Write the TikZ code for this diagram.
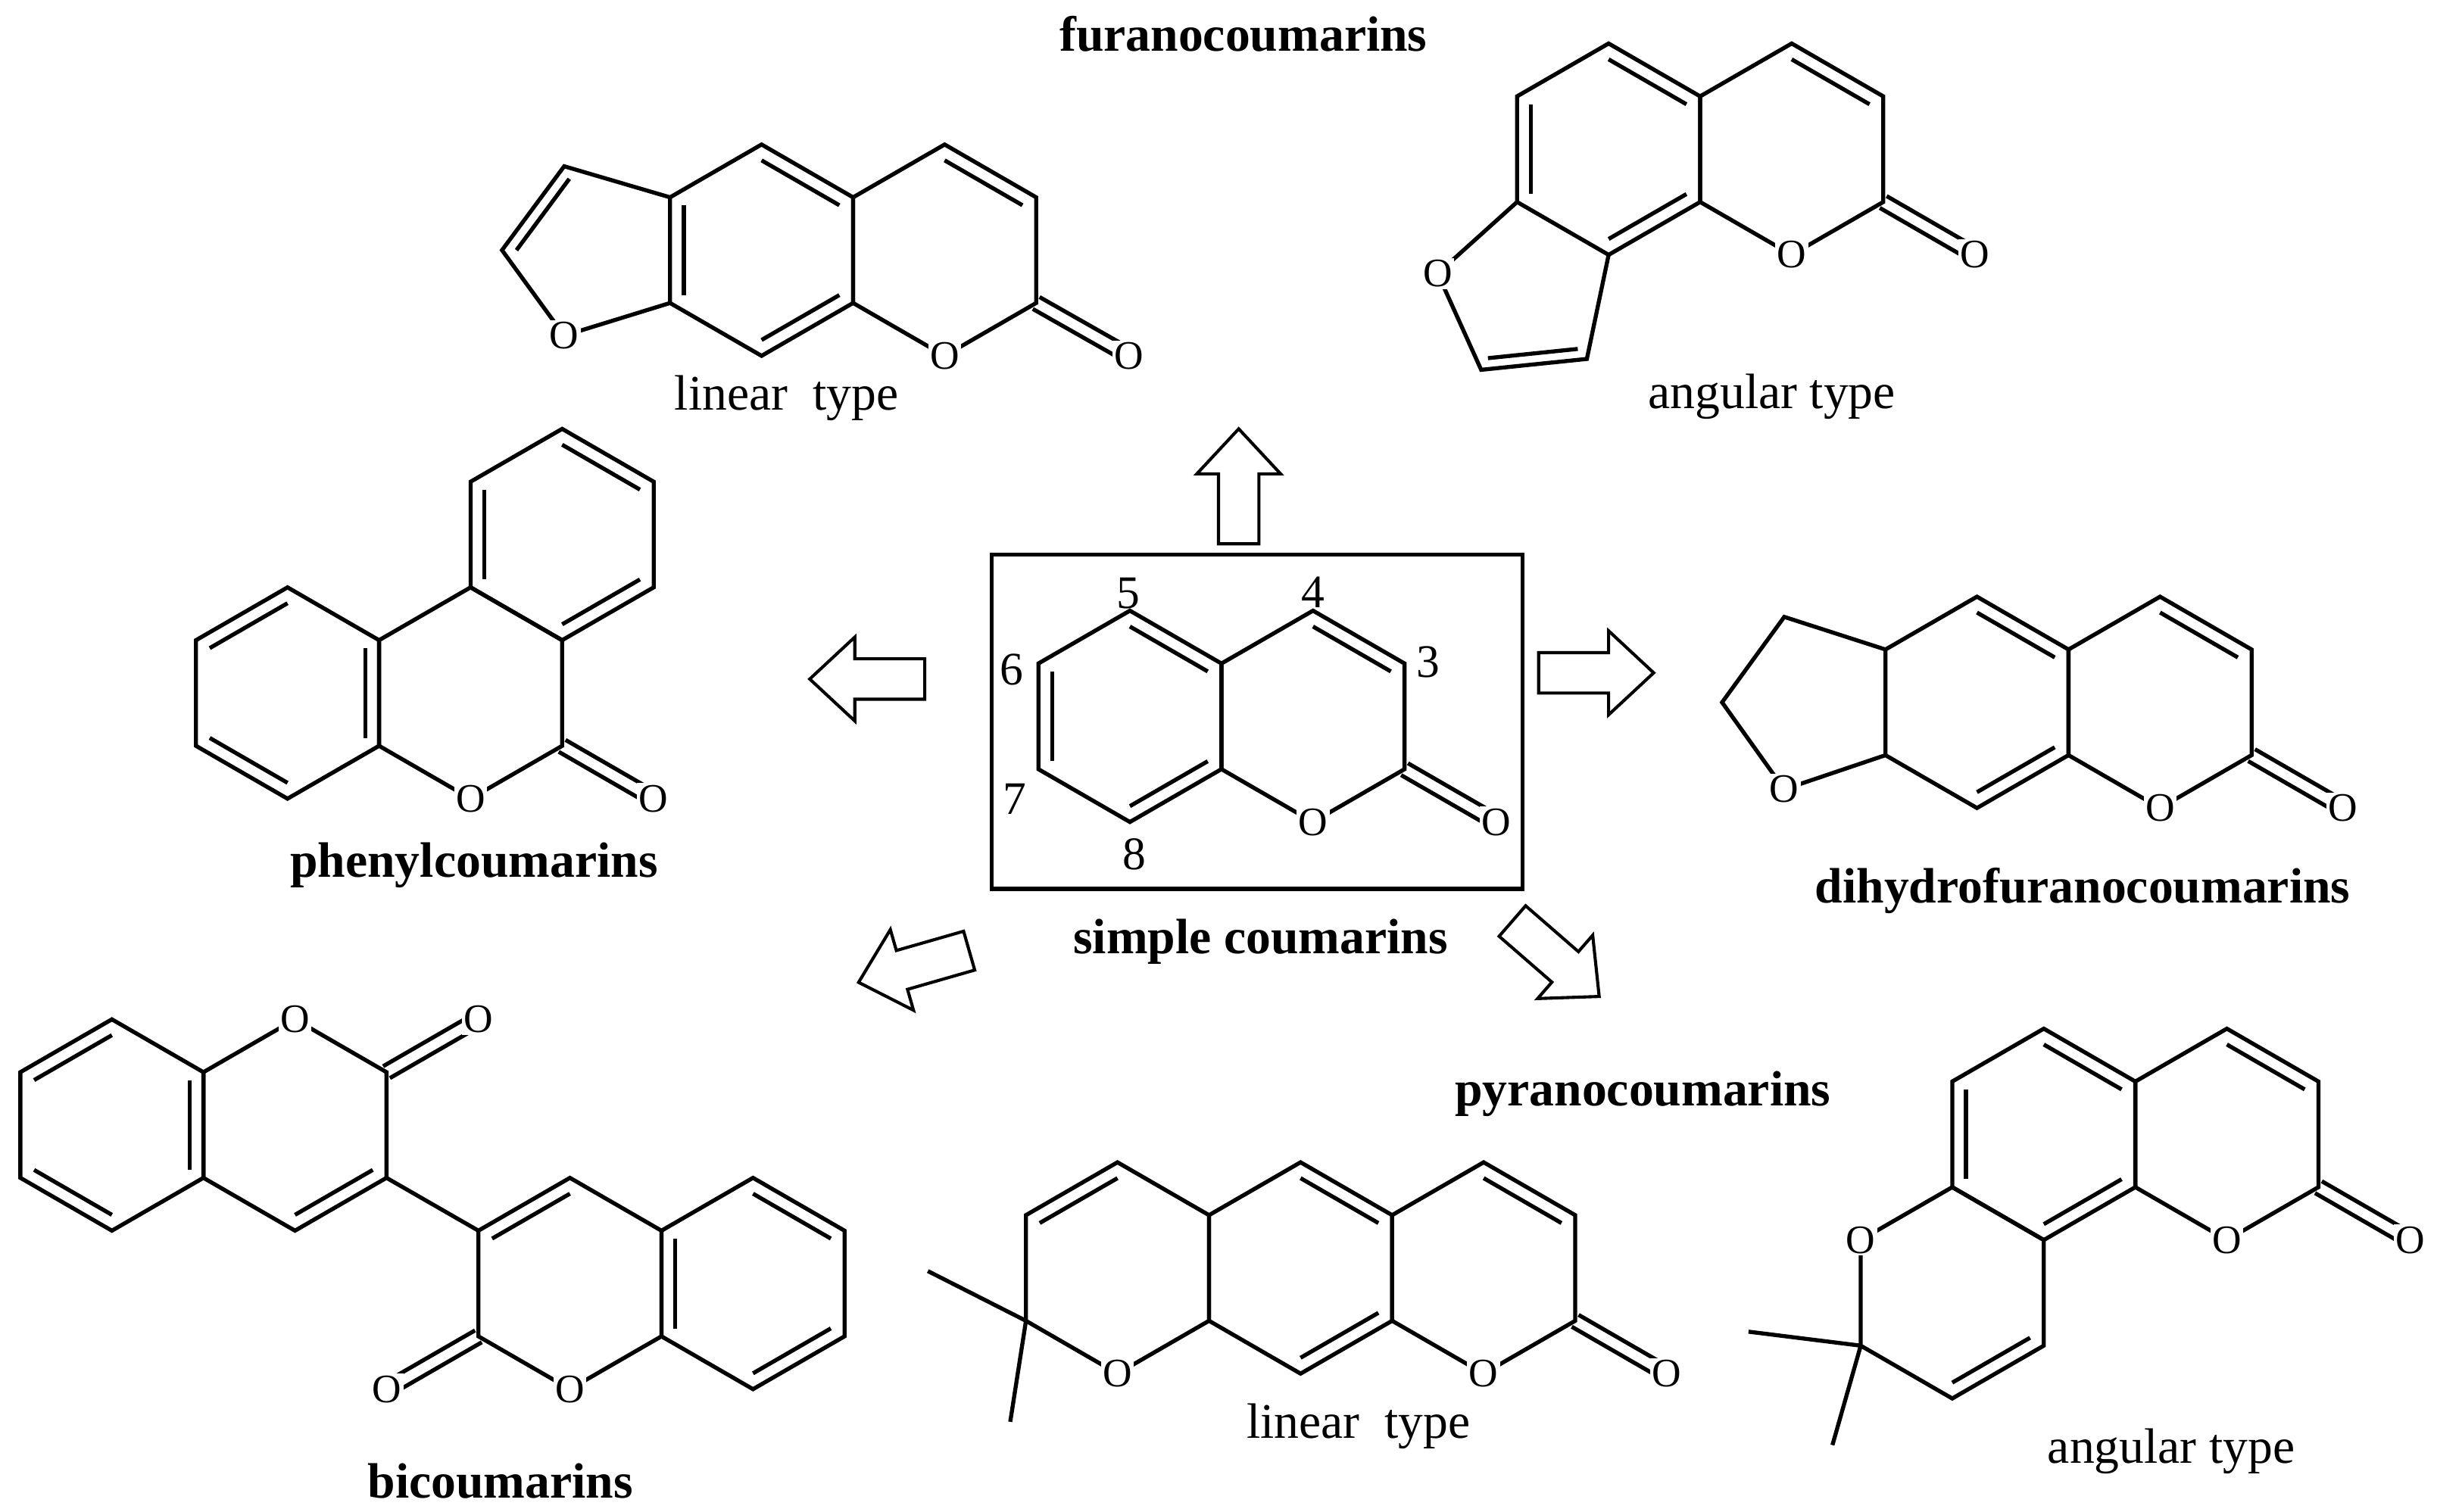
\documentclass[tikz,border=0pt]{standalone}
\usepackage{fontspec}
\setmainfont{Liberation Serif}
\usetikzlibrary{calc}
\newcommand\hexring[4]{%
 \coordinate (#1c) at (#2,#3);
 \coordinate (#1t) at (#2,{#3-#4});
 \coordinate (#1ur) at ({#2+0.866*#4},{#3-0.5*#4});
 \coordinate (#1lr) at ({#2+0.866*#4},{#3+0.5*#4});
 \coordinate (#1b) at (#2,{#3+#4});
 \coordinate (#1ll) at ({#2-0.866*#4},{#3+0.5*#4});
 \coordinate (#1ul) at ({#2-0.866*#4},{#3-0.5*#4});
 \draw[bond] (#1t)--(#1ur)--(#1lr)--(#1b)--(#1ll)--(#1ul)--cycle;}
\newcommand\db[3]{\draw[bond] ($(#1)!0.15!(#3)$) -- ($(#2)!0.15!(#3)$);}
\newcommand\carbonyl[2]{%
 \draw[bond] ($(#1)!2.2pt!90:(#2)$) -- ($(#2)!2.2pt!-90:(#1)$);
 \draw[bond] ($(#1)!2.2pt!-90:(#2)$) -- ($(#2)!2.2pt!90:(#1)$);}
\begin{document}
\begin{tikzpicture}[x=0.5pt,y=-0.5pt,
 bond/.style={line width=1.3pt},
 atom/.style={fill=white,inner sep=0.6pt,font=\fontsize{13}{13}\selectfont},
 lab/.style={font=\fontsize{16}{16}\selectfont},
 blab/.style={font=\fontsize{16}{16}\selectfont\bfseries},
 num/.style={font=\fontsize{15}{15}\selectfont},
 barrow/.style={line width=1pt,fill=white}]
\useasboundingbox (0,0) rectangle (1568,972.7);
% ===== simple coumarin =====
\draw[line width=1.3pt] (638,357) rectangle (979.6,572);
\hexring{A}{727}{461}{68}
\hexring{B}{844.8}{461}{68}
\db{At}{Aur}{Ac}\db{Aul}{All}{Ac}\db{Ab}{Alr}{Ac}\db{Bt}{Bur}{Bc}
\coordinate (Ao) at (962.6,529);
\carbonyl{Blr}{Ao}
\node[atom] at (Bb) {O};\node[atom] at (Ao) {O};
\node[num] at (726,382) {5};\node[num] at (845,381) {4};\node[num] at (919,426) {3};
\node[num] at (651,431) {6};\node[num] at (653,514) {7};\node[num] at (730,550) {8};
\node[blab] at (811,606) {simple coumarins};
% ===== linear furanocoumarin =====
\hexring{C}{490}{161}{68}
\hexring{D}{607.8}{161}{68}
\coordinate (Cf1) at (363,107);\coordinate (Cf2) at (323,161);\coordinate (Cfo) at (363,216);
\coordinate (Cfc) at (385,161);
\draw[bond] (Cul)--(Cf1)--(Cf2)--(Cfo)--(Cll);
\db{Cf1}{Cf2}{Cfc}
\db{Cul}{Cll}{Cc}\db{Ct}{Cur}{Cc}\db{Clr}{Cb}{Cc}\db{Dt}{Dur}{Dc}
\coordinate (Co) at (726.6,229);
\carbonyl{Dlr}{Co}
\node[atom] at (Cfo) {O};\node[atom] at (Db) {O};\node[atom] at (Co) {O};
\node[lab] at (506,256) {linear~ type};
\node[blab] at (800,22) {furanocoumarins};
% ===== angular furanocoumarin =====
\hexring{E}{1035}{96}{68}
\hexring{F}{1152.8}{96}{68}
\coordinate (Efo) at (925,176);\coordinate (Ef1) at (953,238);\coordinate (Ef2) at (1021,231);
\coordinate (Efc) at (982,188);
\draw[bond] (Ell)--(Efo)--(Ef1)--(Ef2)--(Eb);
\db{Ef1}{Ef2}{Efc}
\db{Eul}{Ell}{Ec}\db{Et}{Eur}{Ec}\db{Elr}{Eb}{Ec}\db{Ft}{Fur}{Fc}
\coordinate (Eo) at (1270.6,164);
\carbonyl{Flr}{Eo}
\node[atom] at (Efo) {O};\node[atom] at (Fb) {O};\node[atom] at (Eo) {O};
\node[lab] at (1140,255) {angular type};
% ===== phenylcoumarin =====
\hexring{G}{185}{446}{68}
\hexring{H}{302.8}{446}{68}
\hexring{I}{361.7}{344}{68}
\db{Gul}{Gt}{Gc}\db{Gur}{Glr}{Gc}\db{Gll}{Gb}{Gc}
\db{Iul}{Ill}{Ic}\db{It}{Iur}{Ic}\db{Ilr}{Ib}{Ic}
\coordinate (Ho) at (420.6,514);
\carbonyl{Hlr}{Ho}
\node[atom] at (Hb) {O};\node[atom] at (Ho) {O};
\node[blab] at (305,557) {phenylcoumarins};
% ===== dihydrofuranocoumarin =====
\hexring{J}{1272}{452}{68}
\hexring{K}{1389.8}{452}{68}
\coordinate (Jf1) at (1148,397);\coordinate (Jf2) at (1108,452);\coordinate (Jfo) at (1148,508);
\draw[bond] (Jul)--(Jf1)--(Jf2)--(Jfo)--(Jll);
\db{Jt}{Jur}{Jc}\db{Jlr}{Jb}{Jc}\db{Kt}{Kur}{Kc}
\coordinate (Ko) at (1507.6,520);
\carbonyl{Klr}{Ko}
\node[atom] at (Jfo) {O};\node[atom] at (Kb) {O};\node[atom] at (Ko) {O};
\node[blab] at (1340,573) {dihydrofuranocoumarins};
% ===== bicoumarin =====
\hexring{L}{72}{724}{68}
\hexring{M}{189.8}{724}{68}
\hexring{N}{366.7}{826}{68}
\hexring{P}{484.5}{826}{68}
\draw[bond] (Mlr)--(Nul);
\db{Lul}{Lt}{Lc}\db{Lur}{Llr}{Lc}\db{Lll}{Lb}{Lc}\db{Mlr}{Mb}{Mc}
\db{Nul}{Nt}{Nc}\db{Pt}{Pur}{Pc}\db{Plr}{Pb}{Pc}\db{Pul}{Pll}{Pc}
\coordinate (Mo) at (307.6,656);\coordinate (No) at (248.9,894);
\carbonyl{Mur}{Mo}\carbonyl{Nll}{No}
\node[atom] at (Mt) {O};\node[atom] at (Mo) {O};\node[atom] at (Nb) {O};\node[atom] at (No) {O};
\node[blab] at (322,953) {bicoumarins};
% ===== linear pyranocoumarin =====
\hexring{Q}{719}{816}{68}
\hexring{R}{836.8}{816}{68}
\hexring{S}{954.6}{816}{68}
\coordinate (Qm1) at (597,818);\coordinate (Qm2) at (650,915);
\draw[bond] (Qll)--(Qm1) (Qll)--(Qm2);
\db{Qt}{Qul}{Qc}\db{Rt}{Rur}{Rc}\db{Rlr}{Rb}{Rc}\db{St}{Sur}{Sc}
\coordinate (So) at (1072.4,884);
\carbonyl{Slr}{So}
\node[atom] at (Qb) {O};\node[atom] at (Sb) {O};\node[atom] at (So) {O};
\node[lab] at (874,918) {linear~ type};
\node[blab] at (1057,704) {pyranocoumarins};
% ===== angular pyranocoumarin =====
\hexring{T}{1315}{730}{68}
\hexring{U}{1432.8}{730}{68}
\hexring{V}{1256.1}{832}{68}
\coordinate (Vm1) at (1125,857);\coordinate (Vm2) at (1179,930);
\draw[bond] (Vll)--(Vm1) (Vll)--(Vm2);
\db{Tul}{Tll}{Tc}\db{Tt}{Tur}{Tc}\db{Tlr}{Tb}{Tc}\db{Ut}{Uur}{Uc}\db{Vlr}{Vb}{Vc}
\coordinate (Uo) at (1550.6,798);
\carbonyl{Ulr}{Uo}
\node[atom] at (Vul) {O};\node[atom] at (Ub) {O};\node[atom] at (Uo) {O};
\node[lab] at (1397,934) {angular type};
% ===== block arrows =====
\foreach \x/\y/\a in {797/313/90, 558/437/180, 1027/433/0, 588/622/196, 1001/617/-41}{
 \draw[barrow,shift={(\x,\y)},rotate=\a] (-37,-13)--(8,-13)--(8,-27)--(37,0)--(8,27)--(8,13)--(-37,13)--cycle;}
\end{tikzpicture}
\end{document}
